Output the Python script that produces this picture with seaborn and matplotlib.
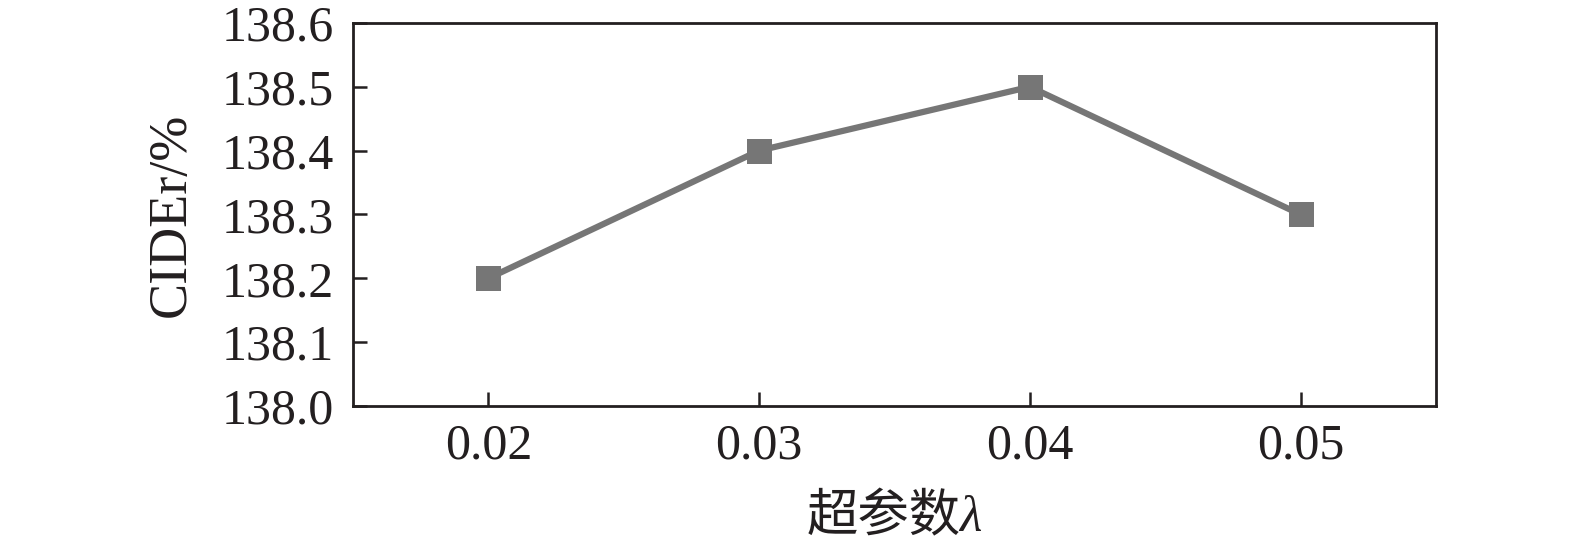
import matplotlib
matplotlib.use("Agg")
import matplotlib.pyplot as plt
import seaborn as sns
import pandas as pd

lambdas = ["0.02", "0.03", "0.04", "0.05"]
cider = [138.2, 138.4, 138.5, 138.3]
yticks = [138.0, 138.1, 138.2, 138.3, 138.4, 138.5, 138.6]

sns.set_theme(style="white")
plt.rcParams['font.family'] = ['Liberation Serif', 'Noto Sans CJK SC']

df = pd.DataFrame({"lam": lambdas, "cider": cider})

fig = plt.figure(figsize=(15.75, 5.47), dpi=100)
ax = fig.add_axes([0.2241, 0.2578, 0.9117 - 0.2241, 0.958 - 0.2578])
sns.lineplot(data=df, x="lam", y="cider", ax=ax, color="#767676",
             marker="s", markersize=18, linewidth=4.5, markeredgewidth=0,
             sort=False)
ax.set_xlim(-0.5, 3.5)
ax.set_ylim(138.0, 138.6)
ax.set_yticks(yticks)
ax.set_yticklabels([f"{v:.1f}" for v in yticks])
ax.tick_params(axis="both", direction="in", length=10, width=1.8,
               labelsize=36, colors="#231f20", left=True, bottom=True,
               top=False, right=False)
ax.tick_params(axis="y", pad=14)
ax.tick_params(axis="x", pad=12)
for s in ax.spines.values():
    s.set_visible(True)
    s.set_linewidth(2.0)
    s.set_color("#231f20")
ax.set_xlabel("超参数λ", fontsize=37, style="italic",
              family=['Liberation Serif', 'Noto Sans CJK SC'],
              color="#231f20", labelpad=18)
ax.set_ylabel("CIDEr/%", fontsize=39, color="#231f20", labelpad=18)
ax.grid(False)
fig.savefig("out.png", dpi=100)
